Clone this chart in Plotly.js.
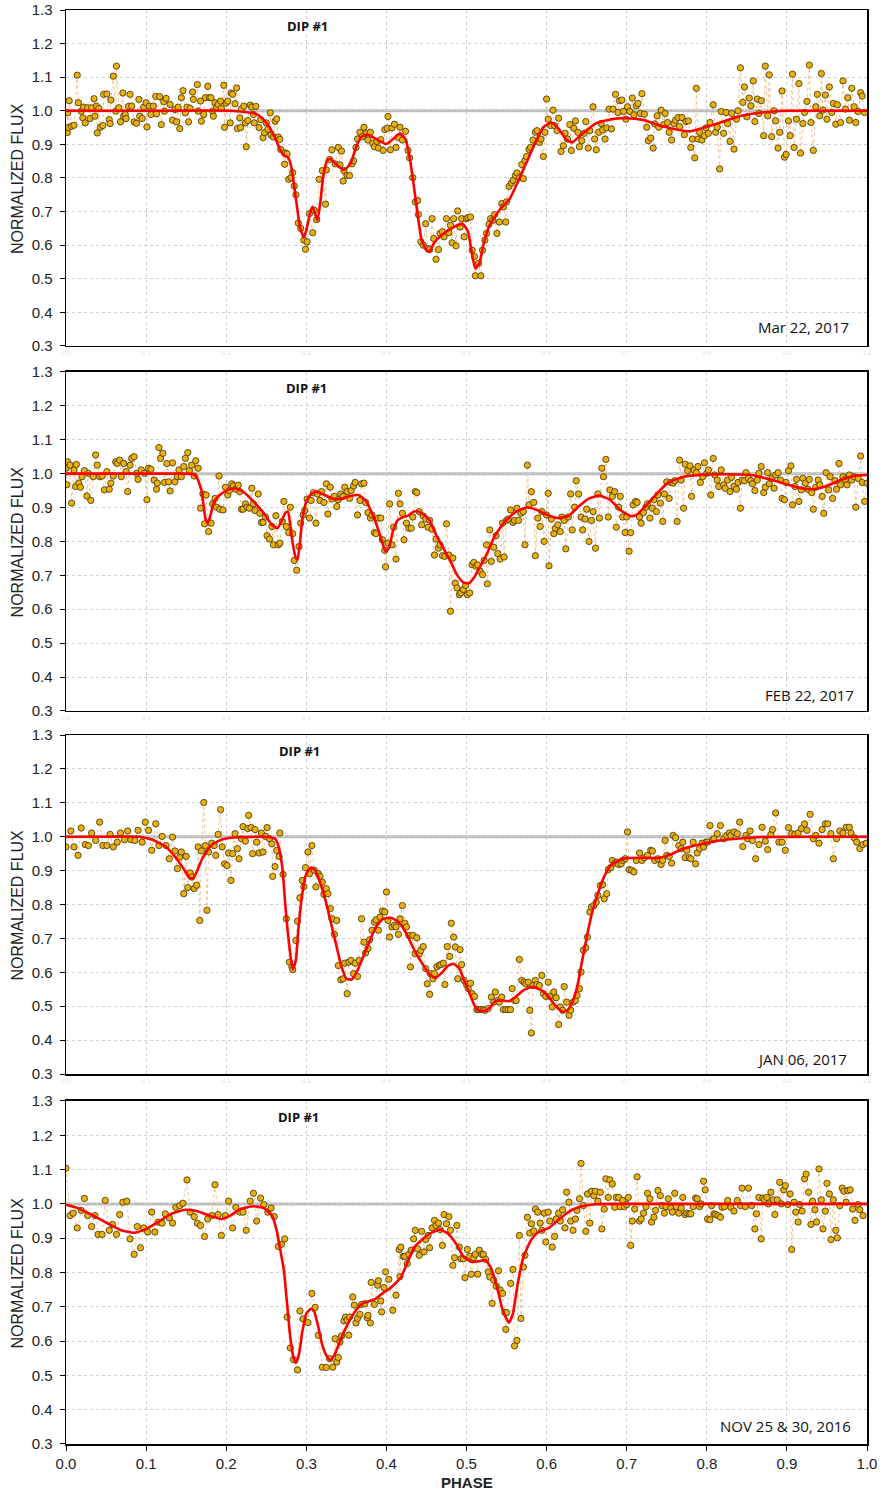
<!DOCTYPE html>
<html>
<head>
<meta charset="utf-8">
<script src="https://cdn.plot.ly/plotly-3.0.1.min.js"></script>
<style>html,body{margin:0;padding:0;background:#fff;}#chart{width:882px;height:1494px;}</style>
</head>
<body>
<div id="chart"></div>
<script>
// ---------- DATA ----------
const PANEL_DATES = ["Mar 22, 2017", "FEB 22, 2017", "JAN 06, 2017", "NOV 25 & 30, 2016"];
const DIP_LABEL = "DIP #1";
const REF_LEVEL = 1.0;

// Panel 1 : Mar 22, 2017  [phase, normalized flux]
const MAR22_POINTS = [
[0.0015,0.935],[0.002,0.994],[0.003,0.95],[0.004,1.03],[0.007,0.954],[0.010,0.957],[0.014,1.106],[0.0155,1.024],[0.019,0.999],[0.021,0.979],
[0.022,1.011],[0.024,0.964],[0.027,1.009],[0.030,0.977],[0.032,1.009],[0.035,1.036],[0.036,0.984],[0.038,1.014],[0.039,0.934],[0.041,1.007],
[0.043,0.951],[0.046,0.956],[0.047,1.049],[0.051,1.05],[0.054,0.974],[0.055,0.962],[0.056,1.032],[0.059,1.103],[0.062,0.999],[0.063,1.133],
[0.066,1.009],[0.068,0.967],[0.071,1.053],[0.072,0.984],[0.074,0.989],[0.075,0.977],[0.078,1.013],[0.080,1.049],[0.082,1.014],[0.085,0.967],
[0.088,0.963],[0.091,1.034],[0.092,0.984],[0.095,0.977],[0.097,1.011],[0.100,1.024],[0.101,0.952],[0.104,1.014],[0.106,0.989],[0.109,1.014],
[0.112,1.043],[0.113,0.991],[0.117,1.042],[0.119,0.959],[0.122,1.027],[0.123,0.999],[0.125,1.037],[0.130,1.019],[0.133,0.972],[0.136,1.004],
[0.138,0.967],[0.140,1.011],[0.142,0.947],[0.144,1.039],[0.146,1.060],[0.149,0.994],[0.151,1.011],[0.153,0.967],[0.155,1.007],[0.158,1.056],
[0.159,1.034],[0.164,1.078],[0.165,0.999],[0.168,1.029],[0.169,0.969],[0.172,0.989],[0.174,1.039],[0.177,1.073],[0.179,1.039],[0.181,1.039],
[0.183,0.999],[0.184,0.984],[0.186,1.024],[0.188,1.011],[0.190,1.019],[0.193,1.029],[0.194,1.007],[0.197,1.076],[0.198,0.951],[0.200,1.023],
[0.202,1.029],[0.205,0.964],[0.206,1.053],[0.208,1.049],[0.211,1.021],[0.213,1.068],[0.214,0.947],[0.217,0.979],[0.218,0.950],[0.219,1.006],
[0.222,1.014],[0.224,0.964],[0.225,0.893],[0.227,0.971],[0.230,1.017],[0.232,1.011],[0.234,0.989],[0.235,0.964],[0.237,1.013],[0.241,0.950],
[0.243,0.974],[0.246,0.920],[0.248,0.935],[0.250,0.964],[0.252,0.945],[0.255,0.994],[0.256,0.928],[0.259,0.922],[0.261,0.969],[0.263,0.976],
[0.265,0.922],[0.267,0.915],[0.268,0.885],[0.273,0.841],[0.274,0.875],[0.276,0.872],[0.278,0.796],[0.281,0.801],[0.283,0.816],[0.285,0.776],
[0.287,0.750],[0.290,0.666],[0.293,0.650],[0.297,0.615],[0.299,0.588],[0.301,0.610],[0.304,0.694],[0.308,0.637],[0.310,0.704],[0.313,0.676],
[0.316,0.796],[0.320,0.822],[0.324,0.722],[0.325,0.824],[0.329,0.855],[0.332,0.884],[0.336,0.842],[0.340,0.891],[0.342,0.839],[0.344,0.880],
[0.346,0.791],[0.347,0.822],[0.351,0.808],[0.354,0.807],[0.357,0.842],[0.359,0.851],[0.362,0.891],[0.364,0.916],[0.367,0.936],[0.370,0.923],
[0.372,0.951],[0.375,0.933],[0.377,0.913],[0.380,0.936],[0.383,0.903],[0.385,0.893],[0.388,0.909],[0.390,0.889],[0.393,0.914],[0.396,0.882],
[0.398,0.944],[0.401,0.948],[0.402,0.983],[0.405,0.884],[0.407,0.949],[0.410,0.960],[0.412,0.891],[0.415,0.921],[0.417,0.951],[0.420,0.913],
[0.424,0.939],[0.427,0.882],[0.429,0.860],[0.433,0.801],[0.436,0.729],[0.439,0.733],[0.440,0.691],[0.443,0.610],[0.446,0.600],[0.449,0.664],
[0.452,0.590],[0.454,0.587],[0.457,0.679],[0.459,0.620],[0.462,0.558],[0.465,0.587],[0.467,0.635],[0.470,0.640],[0.472,0.625],[0.475,0.679],
[0.478,0.637],[0.480,0.659],[0.482,0.607],[0.484,0.679],[0.487,0.598],[0.489,0.702],[0.492,0.654],[0.494,0.679],[0.497,0.625],[0.500,0.679],
[0.502,0.682],[0.505,0.684],[0.507,0.585],[0.510,0.566],[0.511,0.509],[0.515,0.546],[0.518,0.509],[0.520,0.585],[0.523,0.615],[0.525,0.635],
[0.528,0.662],[0.530,0.679],[0.533,0.674],[0.535,0.691],[0.538,0.635],[0.541,0.669],[0.544,0.724],[0.546,0.714],[0.549,0.669],[0.550,0.729],
[0.553,0.775],[0.556,0.785],[0.558,0.793],[0.561,0.807],[0.563,0.815],[0.566,0.801],[0.569,0.840],[0.571,0.798],[0.573,0.852],[0.575,0.864],
[0.578,0.885],[0.580,0.891],[0.583,0.913],[0.586,0.936],[0.588,0.941],[0.591,0.906],[0.593,0.916],[0.596,0.864],[0.598,0.936],[0.600,1.035],
[0.602,0.975],[0.605,0.956],[0.608,1.002],[0.610,0.956],[0.613,0.941],[0.615,0.978],[0.618,0.879],[0.621,0.896],[0.623,0.933],[0.626,0.916],
[0.629,0.959],[0.631,0.882],[0.634,0.948],[0.636,0.970],[0.639,0.936],[0.641,0.893],[0.644,0.911],[0.647,0.933],[0.649,0.968],[0.652,0.889],
[0.654,0.941],[0.658,1.012],[0.660,0.916],[0.662,0.884],[0.665,0.936],[0.668,0.962],[0.670,0.943],[0.673,0.916],[0.675,0.949],[0.678,1.005],
[0.681,0.946],[0.683,1.005],[0.686,1.049],[0.689,0.995],[0.691,1.030],[0.694,1.032],[0.696,0.998],[0.699,0.975],[0.701,1.012],[0.704,0.998],
[0.707,1.038],[0.709,0.988],[0.712,1.015],[0.714,1.022],[0.717,0.992],[0.719,1.051],[0.722,0.990],[0.725,0.951],[0.727,0.911],[0.730,0.919],
[0.733,0.889],[0.735,0.961],[0.738,0.985],[0.740,0.951],[0.743,1.002],[0.746,0.959],[0.748,0.992],[0.751,0.965],[0.753,0.936],[0.756,0.913],
[0.759,0.962],[0.761,0.972],[0.764,0.980],[0.766,0.953],[0.769,0.980],[0.772,0.929],[0.774,0.968],[0.777,0.970],[0.780,0.891],[0.782,0.916],
[0.785,0.860],[0.787,1.067],[0.789,0.916],[0.791,0.936],[0.794,0.913],[0.797,0.926],[0.799,0.949],[0.802,0.933],[0.804,0.965],[0.808,1.018],
[0.811,0.936],[0.813,0.951],[0.816,0.827],[0.818,0.998],[0.821,0.933],[0.824,0.995],[0.826,0.962],[0.829,0.909],[0.831,0.992],[0.834,0.886],
[0.837,0.975],[0.839,1.000],[0.842,1.128],[0.845,1.025],[0.847,1.071],[0.850,0.982],[0.853,1.038],[0.855,1.015],[0.858,1.089],[0.860,0.968],
[0.863,1.035],[0.865,0.992],[0.868,1.030],[0.871,0.926],[0.873,1.133],[0.876,0.985],[0.878,1.107],[0.881,0.923],[0.884,1.000],[0.886,0.970],
[0.889,0.889],[0.891,0.936],[0.894,1.059],[0.897,0.862],[0.899,0.870],[0.902,0.970],[0.904,0.926],[0.907,1.109],[0.909,0.891],[0.912,0.975],
[0.915,1.081],[0.917,0.874],[0.920,0.962],[0.922,0.995],[0.925,1.028],[0.928,1.136],[0.930,0.965],[0.933,0.882],[0.936,1.012],[0.938,1.049],
[0.941,0.985],[0.943,1.111],[0.945,1.002],[0.948,1.047],[0.950,0.975],[0.953,1.071],[0.956,0.995],[0.958,1.022],[0.961,0.960],[0.963,1.018],
[0.967,0.965],[0.970,1.089],[0.973,1.005],[0.976,1.039],[0.978,0.972],[0.981,1.067],[0.984,1.012],[0.986,0.965],[0.989,0.998],[0.992,1.054],
[0.994,1.044],[0.997,0.995]
];
const MAR22_FIT = [
[0,1],[0.1,1],[0.205,1],[0.238,0.99],[0.248,0.97],[0.254,0.951],[0.261,0.919],[0.267,0.886],[0.272,0.867],[0.277,0.862],[0.281,0.837],
[0.285,0.773],[0.289,0.704],[0.292,0.654],[0.297,0.622],[0.301,0.654],[0.305,0.699],[0.308,0.714],[0.311,0.694],[0.314,0.674],[0.318,0.738],
[0.321,0.803],[0.326,0.852],[0.33,0.857],[0.339,0.837],[0.347,0.824],[0.355,0.842],[0.362,0.891],[0.368,0.921],[0.376,0.929],[0.388,0.915],
[0.40,0.901],[0.408,0.915],[0.417,0.933],[0.424,0.915],[0.43,0.847],[0.435,0.763],[0.44,0.674],[0.444,0.615],[0.45,0.585],[0.454,0.58],
[0.459,0.605],[0.469,0.63],[0.485,0.655],[0.495,0.664],[0.502,0.64],[0.506,0.585],[0.511,0.531],[0.516,0.546],[0.521,0.60],[0.528,0.655],
[0.541,0.704],[0.554,0.738],[0.563,0.783],[0.576,0.852],[0.586,0.906],[0.596,0.951],[0.606,0.965],[0.615,0.946],[0.625,0.913],[0.632,0.906],
[0.642,0.926],[0.661,0.962],[0.681,0.975],[0.70,0.978],[0.72,0.973],[0.746,0.953],[0.778,0.939],[0.81,0.96],[0.843,0.985],[0.869,0.995],
[0.90,1.0],[0.95,1.0],[1,1]
];

// Panel 2 : FEB 22, 2017
const FEB22_POINTS = [
[0.000,1.016],[0.001,0.967],[0.002,1.035],[0.005,1.025],[0.007,0.913],[0.010,1.011],[0.012,0.962],[0.013,1.027],[0.016,0.972],[0.018,0.960],
[0.020,0.991],[0.023,1.009],[0.026,0.934],[0.028,1.001],[0.031,0.921],[0.034,0.991],[0.037,1.055],[0.039,1.025],[0.042,0.991],[0.045,0.993],
[0.048,0.952],[0.051,1.006],[0.054,0.954],[0.056,0.972],[0.059,0.993],[0.062,1.035],[0.064,1.030],[0.067,1.040],[0.069,0.991],[0.072,1.030],
[0.075,1.006],[0.077,0.947],[0.080,1.025],[0.082,1.045],[0.085,1.050],[0.088,1.001],[0.090,0.983],[0.094,1.011],[0.098,1.001],[0.101,0.923],
[0.103,1.016],[0.106,1.013],[0.110,0.981],[0.113,0.954],[0.114,0.972],[0.116,1.077],[0.118,1.045],[0.121,1.060],[0.123,0.974],[0.126,1.030],
[0.128,0.976],[0.130,0.949],[0.133,1.032],[0.136,0.976],[0.139,0.991],[0.141,1.011],[0.144,0.991],[0.147,1.021],[0.149,1.045],[0.152,1.062],
[0.154,1.009],[0.157,1.025],[0.160,0.993],[0.162,1.038],[0.165,1.016],[0.168,0.898],[0.171,0.940],[0.173,0.852],[0.175,0.937],[0.178,0.829],
[0.181,0.854],[0.183,0.911],[0.186,0.927],[0.188,0.901],[0.191,0.993],[0.192,0.895],[0.196,0.893],[0.199,0.960],[0.202,0.937],[0.204,0.950],
[0.207,0.970],[0.209,0.964],[0.212,0.954],[0.215,0.966],[0.217,0.947],[0.219,0.895],[0.221,0.895],[0.224,0.911],[0.226,0.901],[0.229,0.898],
[0.232,0.957],[0.234,0.911],[0.236,0.891],[0.240,0.940],[0.242,0.883],[0.244,0.856],[0.246,0.856],[0.249,0.872],[0.251,0.817],[0.254,0.807],
[0.257,0.844],[0.259,0.790],[0.262,0.876],[0.265,0.790],[0.267,0.795],[0.270,0.859],[0.272,0.918],[0.275,0.844],[0.278,0.826],[0.280,0.901],
[0.283,0.823],[0.285,0.744],[0.288,0.715],[0.291,0.785],[0.293,0.854],[0.296,0.878],[0.298,0.891],[0.301,0.925],[0.304,0.869],[0.306,0.921],
[0.309,0.944],[0.312,0.854],[0.314,0.940],[0.317,0.921],[0.319,0.947],[0.322,0.915],[0.325,0.970],[0.327,0.881],[0.330,0.960],[0.332,0.925],
[0.335,0.933],[0.338,0.903],[0.340,0.923],[0.343,0.940],[0.346,0.933],[0.348,0.960],[0.351,0.947],[0.354,0.927],[0.356,0.950],[0.359,0.964],
[0.361,0.974],[0.364,0.878],[0.367,0.921],[0.369,0.970],[0.372,0.972],[0.374,0.915],[0.377,0.885],[0.380,0.869],[0.382,0.878],[0.385,0.826],
[0.387,0.823],[0.390,0.869],[0.393,0.869],[0.395,0.805],[0.398,0.774],[0.399,0.725],[0.402,0.795],[0.404,0.911],[0.407,0.790],[0.409,0.842],
[0.412,0.748],[0.415,0.942],[0.417,0.911],[0.420,0.883],[0.422,0.805],[0.425,0.854],[0.428,0.839],[0.431,0.839],[0.433,0.872],[0.436,0.947],
[0.438,0.944],[0.441,0.888],[0.444,0.849],[0.446,0.875],[0.449,0.866],[0.452,0.842],[0.454,0.862],[0.457,0.836],[0.460,0.760],[0.462,0.807],
[0.465,0.780],[0.467,0.790],[0.470,0.758],[0.473,0.756],[0.475,0.852],[0.478,0.760],[0.480,0.594],[0.483,0.751],[0.486,0.677],[0.488,0.663],
[0.491,0.643],[0.493,0.648],[0.496,0.658],[0.499,0.670],[0.501,0.643],[0.504,0.648],[0.507,0.731],[0.509,0.738],[0.512,0.727],[0.514,0.731],
[0.517,0.712],[0.520,0.702],[0.522,0.744],[0.525,0.790],[0.526,0.675],[0.529,0.834],[0.531,0.741],[0.534,0.783],[0.537,0.817],[0.539,0.764],
[0.542,0.748],[0.545,0.854],[0.547,0.754],[0.550,0.862],[0.552,0.866],[0.555,0.893],[0.558,0.856],[0.560,0.862],[0.563,0.898],[0.565,0.862],
[0.568,0.883],[0.571,0.888],[0.573,0.790],[0.576,1.025],[0.578,0.908],[0.581,0.947],[0.584,0.915],[0.586,0.758],[0.589,0.869],[0.592,0.844],
[0.594,0.888],[0.597,0.800],[0.600,0.878],[0.602,0.942],[0.603,0.728],[0.606,0.866],[0.609,0.823],[0.611,0.839],[0.614,0.849],[0.617,0.829],
[0.619,0.872],[0.622,0.862],[0.624,0.778],[0.627,0.872],[0.630,0.940],[0.632,0.834],[0.635,0.901],[0.637,0.979],[0.640,0.940],[0.643,0.872],
[0.645,0.834],[0.648,0.866],[0.650,0.895],[0.653,0.800],[0.656,0.862],[0.658,0.888],[0.661,0.780],[0.664,0.940],[0.666,0.869],[0.669,1.016],
[0.671,0.991],[0.674,1.042],[0.677,0.872],[0.679,0.952],[0.682,0.933],[0.685,0.947],[0.687,0.842],[0.690,0.901],[0.692,0.933],[0.695,0.872],
[0.698,0.826],[0.700,0.872],[0.703,0.771],[0.705,0.826],[0.708,0.908],[0.711,0.918],[0.713,0.915],[0.716,0.872],[0.718,0.854],[0.721,0.885],
[0.724,0.901],[0.726,0.911],[0.729,0.869],[0.732,0.898],[0.734,0.923],[0.737,0.888],[0.739,0.937],[0.742,0.913],[0.745,0.859],[0.747,0.940],
[0.750,0.976],[0.753,0.927],[0.755,0.974],[0.758,0.972],[0.760,0.979],[0.763,0.859],[0.766,1.040],[0.768,0.981],[0.771,0.898],[0.773,1.028],
[0.776,1.009],[0.779,1.023],[0.781,0.933],[0.784,1.011],[0.787,1.003],[0.789,1.021],[0.792,0.974],[0.795,0.991],[0.797,1.032],[0.800,1.001],
[0.802,1.011],[0.805,0.937],[0.808,1.045],[0.810,0.996],[0.813,0.981],[0.815,0.962],[0.818,1.011],[0.821,0.967],[0.823,0.957],[0.826,0.981],
[0.829,0.947],[0.831,0.989],[0.834,0.962],[0.837,0.954],[0.839,0.974],[0.842,0.898],[0.844,0.981],[0.847,0.979],[0.849,1.003],[0.852,0.986],
[0.855,0.979],[0.857,0.970],[0.860,0.950],[0.863,0.981],[0.865,1.001],[0.868,1.021],[0.871,0.944],[0.873,0.960],[0.876,1.003],[0.878,0.970],
[0.881,0.986],[0.884,0.957],[0.886,0.996],[0.889,1.003],[0.892,0.981],[0.894,0.927],[0.897,0.923],[0.899,0.974],[0.902,1.009],[0.905,1.023],
[0.907,0.908],[0.910,0.962],[0.912,0.983],[0.915,0.918],[0.918,0.952],[0.920,0.986],[0.923,0.972],[0.926,0.954],[0.928,0.983],[0.931,0.944],
[0.933,0.895],[0.936,0.960],[0.939,0.981],[0.941,0.967],[0.944,0.933],[0.946,0.883],[0.949,1.003],[0.952,0.952],[0.954,0.991],[0.957,0.927],
[0.960,0.979],[0.962,0.954],[0.965,1.030],[0.967,0.967],[0.970,0.991],[0.973,0.983],[0.975,0.967],[0.978,0.996],[0.981,0.981],[0.984,0.991],
[0.986,0.901],[0.989,0.986],[0.992,1.052],[0.994,0.974],[0.997,0.918],[1.000,0.972]
];
const FEB22_FIT = [
[0,1],[0.08,1],[0.14,1],[0.158,0.999],[0.163,0.99],[0.169,0.952],[0.174,0.869],[0.177,0.854],[0.181,0.883],[0.185,0.918],[0.192,0.937],[0.202,0.952],[0.211,0.956],
[0.221,0.947],[0.234,0.918],[0.247,0.883],[0.257,0.849],[0.264,0.839],[0.268,0.854],[0.274,0.885],[0.277,0.888],[0.28,0.849],[0.283,0.795],
[0.287,0.751],[0.289,0.746],[0.292,0.795],[0.295,0.864],[0.30,0.918],[0.306,0.94],[0.313,0.947],[0.323,0.937],[0.332,0.927],[0.342,0.925],
[0.355,0.934],[0.365,0.937],[0.375,0.918],[0.384,0.872],[0.39,0.834],[0.395,0.795],[0.399,0.771],[0.403,0.78],[0.408,0.829],[0.414,0.862],
[0.421,0.872],[0.427,0.876],[0.434,0.888],[0.44,0.888],[0.447,0.878],[0.454,0.862],[0.462,0.82],[0.47,0.785],[0.48,0.741],[0.488,0.702],
[0.496,0.679],[0.503,0.677],[0.509,0.692],[0.517,0.726],[0.526,0.766],[0.535,0.815],[0.548,0.859],[0.562,0.888],[0.575,0.90],[0.588,0.893],
[0.601,0.878],[0.614,0.869],[0.627,0.875],[0.64,0.903],[0.653,0.927],[0.666,0.935],[0.679,0.923],[0.692,0.893],[0.705,0.875],[0.712,0.878],
[0.725,0.908],[0.738,0.942],[0.751,0.972],[0.771,0.991],[0.797,0.997],[0.823,0.998],[0.856,0.996],[0.882,0.981],[0.902,0.967],[0.918,0.957],
[0.933,0.954],[0.948,0.962],[0.967,0.981],[0.984,0.994],[1,0.996]
];

// Panel 3 : JAN 06, 2017
const JAN06_POINTS = [
[0.000,0.970],[0.006,1.017],[0.010,0.970],[0.015,0.945],[0.019,1.026],[0.024,0.977],[0.028,0.974],[0.032,1.011],[0.037,0.989],[0.042,1.043],
[0.046,0.974],[0.051,0.974],[0.055,1.007],[0.059,0.970],[0.064,0.984],[0.068,1.011],[0.073,0.991],[0.077,1.017],[0.081,0.991],[0.086,0.989],
[0.090,1.019],[0.095,0.984],[0.099,1.043],[0.103,1.019],[0.107,0.960],[0.112,1.038],[0.116,0.974],[0.120,1.001],[0.125,0.974],[0.129,0.935],
[0.133,0.999],[0.136,0.958],[0.139,0.906],[0.142,0.940],[0.144,0.955],[0.147,0.832],[0.150,0.942],[0.152,0.850],[0.155,0.893],[0.157,0.881],
[0.160,0.847],[0.163,0.857],[0.165,0.970],[0.167,0.753],[0.169,0.958],[0.172,1.101],[0.174,0.974],[0.176,0.783],[0.178,0.955],[0.182,0.981],
[0.185,0.974],[0.187,0.945],[0.190,1.007],[0.193,1.080],[0.195,0.970],[0.198,0.920],[0.201,0.915],[0.203,0.952],[0.206,0.871],[0.208,0.950],
[0.211,1.009],[0.214,0.965],[0.216,0.935],[0.219,0.994],[0.221,1.030],[0.224,0.987],[0.227,1.024],[0.228,1.063],[0.231,1.027],[0.233,0.950],
[0.236,1.021],[0.238,0.984],[0.241,0.952],[0.244,1.011],[0.246,0.955],[0.249,1.001],[0.251,1.027],[0.254,0.994],[0.257,0.979],[0.258,0.883],
[0.261,0.912],[0.263,0.960],[0.266,0.942],[0.267,1.011],[0.271,0.889],[0.275,0.758],[0.279,0.630],[0.282,0.616],[0.283,0.608],[0.287,0.694],
[0.289,0.751],[0.292,0.820],[0.295,0.871],[0.297,0.853],[0.299,0.909],[0.302,0.955],[0.304,0.891],[0.307,0.974],[0.310,0.901],[0.312,0.852],
[0.315,0.891],[0.317,0.883],[0.320,0.866],[0.322,0.830],[0.325,0.847],[0.327,0.832],[0.330,0.788],[0.332,0.758],[0.335,0.712],[0.338,0.753],
[0.340,0.620],[0.343,0.578],[0.346,0.581],[0.348,0.627],[0.351,0.537],[0.353,0.630],[0.356,0.635],[0.359,0.596],[0.361,0.627],[0.364,0.588],
[0.366,0.635],[0.369,0.758],[0.372,0.689],[0.374,0.657],[0.377,0.670],[0.379,0.696],[0.382,0.724],[0.385,0.748],[0.387,0.755],[0.390,0.724],
[0.392,0.763],[0.395,0.781],[0.398,0.778],[0.400,0.837],[0.402,0.753],[0.404,0.704],[0.407,0.734],[0.410,0.739],[0.412,0.734],[0.415,0.712],
[0.417,0.758],[0.420,0.797],[0.423,0.745],[0.425,0.734],[0.428,0.709],[0.430,0.616],[0.433,0.709],[0.436,0.655],[0.438,0.702],[0.441,0.655],
[0.443,0.665],[0.446,0.676],[0.449,0.611],[0.451,0.566],[0.454,0.535],[0.455,0.596],[0.458,0.581],[0.460,0.596],[0.463,0.616],[0.466,0.621],
[0.468,0.623],[0.471,0.627],[0.473,0.564],[0.476,0.676],[0.479,0.647],[0.481,0.745],[0.484,0.704],[0.486,0.675],[0.489,0.581],[0.492,0.667],
[0.494,0.623],[0.497,0.576],[0.500,0.564],[0.502,0.552],[0.505,0.568],[0.507,0.537],[0.510,0.529],[0.513,0.490],[0.515,0.490],[0.518,0.490],
[0.521,0.490],[0.523,0.488],[0.527,0.493],[0.531,0.527],[0.534,0.512],[0.536,0.542],[0.539,0.517],[0.541,0.512],[0.544,0.527],[0.546,0.490],
[0.549,0.490],[0.552,0.490],[0.555,0.490],[0.557,0.552],[0.560,0.517],[0.562,0.517],[0.566,0.638],[0.569,0.576],[0.572,0.571],[0.574,0.566],
[0.577,0.571],[0.579,0.488],[0.581,0.421],[0.583,0.561],[0.586,0.576],[0.588,0.564],[0.591,0.561],[0.594,0.591],[0.596,0.537],[0.599,0.529],
[0.602,0.571],[0.604,0.529],[0.607,0.498],[0.609,0.542],[0.612,0.525],[0.615,0.446],[0.617,0.498],[0.620,0.488],[0.622,0.558],[0.625,0.512],
[0.628,0.473],[0.630,0.488],[0.633,0.512],[0.636,0.517],[0.638,0.532],[0.641,0.552],[0.643,0.601],[0.646,0.665],[0.649,0.673],[0.651,0.704],
[0.654,0.778],[0.656,0.793],[0.659,0.797],[0.662,0.807],[0.664,0.827],[0.667,0.856],[0.670,0.859],[0.672,0.817],[0.675,0.832],[0.677,0.903],
[0.680,0.909],[0.682,0.930],[0.685,0.922],[0.688,0.925],[0.690,0.918],[0.693,0.920],[0.695,0.930],[0.698,0.935],[0.701,1.014],[0.703,0.903],
[0.706,0.901],[0.709,0.896],[0.712,0.930],[0.716,0.952],[0.719,0.930],[0.722,0.938],[0.726,0.945],[0.730,0.960],[0.732,0.958],[0.735,0.930],
[0.739,0.935],[0.743,0.918],[0.745,0.930],[0.748,0.989],[0.750,0.945],[0.753,0.942],[0.756,0.922],[0.758,1.004],[0.761,0.997],[0.765,0.974],
[0.768,0.965],[0.770,0.984],[0.773,0.938],[0.775,0.960],[0.778,0.938],[0.780,0.935],[0.783,0.984],[0.786,0.920],[0.788,0.952],[0.791,0.965],
[0.794,0.981],[0.796,0.970],[0.799,0.984],[0.801,0.984],[0.804,1.033],[0.807,0.991],[0.809,0.994],[0.813,1.009],[0.817,1.033],[0.821,0.994],
[0.825,1.004],[0.828,1.011],[0.830,1.004],[0.834,1.014],[0.838,1.009],[0.841,1.043],[0.845,0.971],[0.849,1.004],[0.851,0.994],[0.854,1.017],
[0.857,0.989],[0.861,0.935],[0.865,0.977],[0.869,1.028],[0.873,0.987],[0.876,0.962],[0.880,1.007],[0.882,1.021],[0.886,1.070],[0.890,0.984],
[0.894,0.984],[0.898,0.960],[0.902,1.027],[0.906,1.009],[0.910,1.007],[0.914,1.011],[0.918,1.024],[0.922,1.038],[0.925,1.019],[0.929,1.066],
[0.933,0.994],[0.936,1.004],[0.940,0.981],[0.944,1.021],[0.948,1.038],[0.951,1.038],[0.955,1.009],[0.958,0.935],[0.962,0.994],[0.966,1.017],
[0.970,1.011],[0.974,1.028],[0.978,1.028],[0.980,1.011],[0.984,0.997],[0.987,0.984],[0.991,0.965],[0.995,0.977],[0.999,0.981]
];
const JAN06_FIT = [
[0,1],[0.05,1],[0.092,1],[0.108,0.991],[0.125,0.97],[0.138,0.935],[0.148,0.901],[0.154,0.879],[0.159,0.878],[0.164,0.901],[0.17,0.935],
[0.18,0.971],[0.19,0.987],[0.203,0.996],[0.223,0.999],[0.249,1.0],[0.261,0.994],[0.265,0.974],[0.27,0.911],[0.274,0.793],[0.278,0.694],
[0.283,0.608],[0.287,0.636],[0.29,0.724],[0.295,0.832],[0.30,0.891],[0.306,0.909],[0.311,0.901],[0.317,0.866],[0.324,0.812],[0.33,0.753],
[0.337,0.684],[0.344,0.616],[0.35,0.581],[0.357,0.579],[0.363,0.601],[0.37,0.64],[0.378,0.686],[0.387,0.734],[0.396,0.758],[0.406,0.761],
[0.415,0.748],[0.425,0.714],[0.435,0.665],[0.445,0.625],[0.453,0.596],[0.461,0.583],[0.47,0.601],[0.477,0.62],[0.484,0.625],[0.491,0.611],
[0.497,0.576],[0.504,0.537],[0.51,0.502],[0.515,0.488],[0.523,0.486],[0.53,0.498],[0.536,0.515],[0.543,0.517],[0.553,0.515],[0.561,0.527],
[0.571,0.547],[0.582,0.557],[0.592,0.549],[0.602,0.529],[0.611,0.502],[0.62,0.483],[0.626,0.488],[0.633,0.517],[0.639,0.566],[0.644,0.63],
[0.651,0.714],[0.657,0.778],[0.664,0.832],[0.672,0.883],[0.68,0.915],[0.69,0.93],[0.70,0.937],[0.719,0.938],[0.739,0.937],[0.752,0.945],
[0.771,0.965],[0.791,0.977],[0.811,0.987],[0.837,0.994],[0.869,0.999],[0.93,1],[1,1]
];

// Panel 4 : NOV 25 & 30, 2016
const NOV_POINTS = [
[0.000,1.104],[0.005,0.966],[0.009,0.973],[0.014,0.930],[0.019,0.981],[0.023,1.016],[0.027,0.966],[0.032,0.934],[0.036,0.966],[0.040,0.911],
[0.045,0.911],[0.049,1.010],[0.054,0.923],[0.058,0.940],[0.063,0.911],[0.067,0.969],[0.071,1.005],[0.076,1.008],[0.080,0.898],[0.085,0.853],
[0.089,0.934],[0.093,0.872],[0.097,0.930],[0.102,0.918],[0.107,0.976],[0.111,0.918],[0.115,0.947],[0.120,0.944],[0.124,0.971],[0.129,0.959],
[0.133,0.944],[0.137,0.990],[0.142,0.995],[0.146,1.002],[0.151,1.070],[0.155,0.976],[0.160,0.963],[0.164,0.944],[0.168,0.937],[0.173,0.905],
[0.177,0.956],[0.182,0.966],[0.186,1.056],[0.190,0.969],[0.194,0.908],[0.199,0.966],[0.203,1.008],[0.208,0.930],[0.212,0.990],[0.217,0.976],
[0.221,0.976],[0.225,0.923],[0.230,1.008],[0.234,1.031],[0.238,0.950],[0.243,1.017],[0.247,0.998],[0.252,0.976],[0.256,0.988],[0.260,0.963],
[0.265,0.876],[0.269,0.882],[0.273,0.898],[0.276,0.670],[0.280,0.580],[0.284,0.546],[0.289,0.516],[0.292,0.688],[0.296,0.665],[0.302,0.654],
[0.307,0.739],[0.311,0.698],[0.315,0.617],[0.320,0.524],[0.325,0.523],[0.329,0.549],[0.333,0.524],[0.336,0.607],[0.338,0.539],[0.340,0.552],
[0.342,0.597],[0.344,0.615],[0.347,0.659],[0.349,0.670],[0.351,0.661],[0.353,0.617],[0.354,0.670],[0.358,0.729],[0.360,0.705],[0.362,0.653],
[0.364,0.666],[0.367,0.678],[0.369,0.707],[0.373,0.709],[0.376,0.668],[0.377,0.675],[0.380,0.653],[0.381,0.771],[0.385,0.707],[0.389,0.763],
[0.390,0.776],[0.393,0.717],[0.394,0.685],[0.397,0.756],[0.399,0.802],[0.403,0.780],[0.408,0.690],[0.412,0.734],[0.416,0.867],[0.417,0.788],
[0.418,0.874],[0.421,0.847],[0.423,0.847],[0.426,0.826],[0.428,0.853],[0.431,0.865],[0.434,0.898],[0.436,0.923],[0.439,0.869],[0.441,0.850],
[0.444,0.920],[0.447,0.860],[0.449,0.896],[0.452,0.908],[0.454,0.872],[0.457,0.930],[0.460,0.952],[0.462,0.937],[0.465,0.944],[0.467,0.925],
[0.470,0.879],[0.472,0.969],[0.475,0.942],[0.478,0.963],[0.480,0.923],[0.483,0.821],[0.485,0.843],[0.488,0.937],[0.491,0.874],[0.493,0.840],
[0.496,0.840],[0.498,0.785],[0.501,0.867],[0.504,0.847],[0.506,0.795],[0.509,0.843],[0.511,0.853],[0.514,0.795],[0.516,0.865],[0.519,0.853],
[0.521,0.853],[0.524,0.838],[0.527,0.802],[0.529,0.787],[0.532,0.710],[0.534,0.778],[0.537,0.760],[0.540,0.805],[0.542,0.749],[0.545,0.739],
[0.548,0.683],[0.549,0.634],[0.550,0.683],[0.555,0.768],[0.558,0.809],[0.560,0.586],[0.563,0.602],[0.566,0.908],[0.568,0.666],[0.571,0.816],
[0.573,0.850],[0.576,0.961],[0.579,0.915],[0.581,0.942],[0.584,0.921],[0.586,0.985],[0.589,0.976],[0.592,0.944],[0.594,0.923],[0.597,0.973],
[0.599,0.889],[0.602,0.976],[0.604,0.950],[0.607,0.874],[0.610,0.905],[0.612,0.956],[0.615,0.973],[0.617,0.950],[0.620,0.983],[0.623,0.930],
[0.625,1.034],[0.628,1.005],[0.630,0.950],[0.633,0.923],[0.636,0.956],[0.638,0.981],[0.641,1.015],[0.643,1.118],[0.646,0.995],[0.649,0.920],
[0.651,1.029],[0.654,0.944],[0.656,1.037],[0.659,1.024],[0.661,1.037],[0.664,1.008],[0.667,1.034],[0.669,0.927],[0.672,0.985],[0.674,1.073],
[0.677,1.019],[0.679,1.070],[0.682,1.058],[0.685,0.990],[0.687,1.019],[0.690,1.019],[0.692,0.992],[0.695,1.010],[0.697,0.992],[0.700,0.998],
[0.702,1.019],[0.705,0.879],[0.707,0.950],[0.710,0.985],[0.713,1.079],[0.716,0.950],[0.718,0.956],[0.721,0.973],[0.724,0.992],[0.726,1.031],
[0.729,1.015],[0.731,0.947],[0.734,0.961],[0.736,0.981],[0.739,1.039],[0.742,1.024],[0.744,0.995],[0.747,0.973],[0.749,0.992],[0.752,1.015],
[0.755,0.988],[0.757,0.976],[0.760,1.031],[0.762,0.992],[0.765,0.973],[0.768,0.988],[0.770,1.019],[0.773,0.969],[0.775,0.973],[0.778,0.971],
[0.780,0.971],[0.783,0.992],[0.786,1.017],[0.788,1.015],[0.791,0.992],[0.793,1.000],[0.796,1.066],[0.798,1.041],[0.801,0.956],[0.804,0.954],
[0.806,0.995],[0.809,0.971],[0.811,0.969],[0.814,0.966],[0.817,0.961],[0.819,0.990],[0.822,0.992],[0.826,1.010],[0.830,0.990],[0.834,0.979],
[0.838,1.010],[0.842,0.995],[0.844,1.046],[0.848,0.992],[0.852,1.046],[0.856,0.995],[0.860,0.927],[0.862,0.971],[0.865,1.019],[0.868,0.898],
[0.870,1.017],[0.872,1.012],[0.875,1.019],[0.877,1.000],[0.880,1.034],[0.883,1.012],[0.885,0.969],[0.888,1.012],[0.891,1.063],[0.893,1.000],
[0.896,1.041],[0.898,1.053],[0.901,0.998],[0.904,1.029],[0.906,0.867],[0.909,1.005],[0.911,0.976],[0.914,0.947],[0.916,0.998],[0.919,0.979],
[0.922,1.073],[0.924,1.087],[0.927,1.034],[0.930,0.940],[0.932,1.008],[0.935,0.983],[0.937,0.947],[0.940,1.102],[0.943,1.012],[0.945,0.927],
[0.948,0.979],[0.950,1.060],[0.953,1.029],[0.955,0.896],[0.958,1.012],[0.961,0.923],[0.963,0.901],[0.966,0.995],[0.969,1.046],[0.971,1.037],
[0.974,1.005],[0.976,1.039],[0.979,1.041],[0.982,0.985],[0.985,0.952],[0.989,0.998],[0.991,0.983],[0.995,0.966]
];
const NOV_FIT = [
[0,0.998],[0.014,0.988],[0.034,0.966],[0.053,0.942],[0.069,0.923],[0.085,0.916],[0.098,0.925],[0.115,0.947],[0.131,0.971],[0.149,0.983],
[0.163,0.979],[0.179,0.966],[0.194,0.956],[0.205,0.966],[0.218,0.985],[0.234,0.993],[0.247,0.988],[0.257,0.966],[0.263,0.923],[0.268,0.86],
[0.272,0.807],[0.276,0.709],[0.28,0.612],[0.284,0.552],[0.287,0.536],[0.291,0.563],[0.295,0.627],[0.30,0.68],[0.306,0.695],[0.31,0.685],
[0.315,0.641],[0.32,0.588],[0.326,0.554],[0.33,0.544],[0.335,0.559],[0.341,0.593],[0.348,0.632],[0.354,0.66],[0.362,0.69],[0.37,0.709],
[0.379,0.717],[0.387,0.724],[0.395,0.739],[0.404,0.753],[0.412,0.77],[0.418,0.785],[0.435,0.874],[0.454,0.913],[0.467,0.925],[0.477,0.913],
[0.487,0.884],[0.496,0.847],[0.506,0.831],[0.516,0.833],[0.524,0.836],[0.531,0.811],[0.539,0.749],[0.545,0.691],[0.553,0.654],[0.558,0.681],
[0.564,0.768],[0.571,0.845],[0.581,0.896],[0.59,0.918],[0.603,0.93],[0.613,0.95],[0.623,0.969],[0.632,0.983],[0.642,0.992],[0.661,0.999],
[0.694,1.0],[0.8,1.0],[1,1]
];

// ---------- CHART ----------
const PANELS = [
  {pts: MAR22_POINTS, fit: MAR22_FIT, date: PANEL_DATES[0], dipX: 0.301, dateX: 0.98,  dateY: 0.356},
  {pts: FEB22_POINTS, fit: FEB22_FIT, date: PANEL_DATES[1], dipX: 0.30,  dateX: 0.986, dateY: 0.347},
  {pts: JAN06_POINTS, fit: JAN06_FIT, date: PANEL_DATES[2], dipX: 0.291, dateX: 0.978, dateY: 0.344},
  {pts: NOV_POINTS,   fit: NOV_FIT,   date: PANEL_DATES[3], dipX: 0.29,  dateX: 0.983, dateY: 0.352}
];
const DOMAINS = [[0.7657, 1.0], [0.5112, 0.7476], [0.2580, 0.4944], [0.0, 0.2392]];

const FONT = "Liberation Sans, Arial, sans-serif";
const LABEL_FONT = "Open Sans, Noto Sans, sans-serif";

const traces = [];
const shapes = [];
const annotations = [];
const layout = {
  width: 882, height: 1494,
  margin: {l: 66, r: 15, t: 10, b: 50},
  paper_bgcolor: "#fff", plot_bgcolor: "#fff",
  showlegend: false,
  font: {family: FONT, color: "#222"}
};

PANELS.forEach((p, i) => {
  const n = i + 1;
  const xa = "x" + (n === 1 ? "" : n), ya = "y" + (n === 1 ? "" : n);
  const pts = p.pts.slice().sort((a, b) => a[0] - b[0]);
  traces.push({
    type: "scatter", mode: "lines+markers", xaxis: xa, yaxis: ya,
    x: pts.map(d => d[0]), y: pts.map(d => d[1]),
    line: {color: "#f5c08c", width: 1, dash: "dot"},
    marker: {size: 6.3, color: "#ecb00e", line: {color: "#3b3000", width: 0.8}},
    hoverinfo: "skip"
  });
  traces.push({
    type: "scatter", mode: "lines", xaxis: xa, yaxis: ya,
    x: p.fit.map(d => d[0]), y: p.fit.map(d => d[1]),
    line: {color: "#ff0000", width: 2.6, shape: "spline", smoothing: 0.5},
    hoverinfo: "skip"
  });
  const last = n === 4;
  layout["xaxis" + (n === 1 ? "" : n)] = {
    domain: [0, 1], anchor: ya, range: [0, 1], dtick: 0.1, tick0: 0, tickformat: ".1f",
    showgrid: true, gridcolor: "#cfcfcf", griddash: "dot", gridwidth: 1,
    showline: true, linecolor: "#000", linewidth: 1.5, mirror: true, zeroline: false,
    ticks: last ? "outside" : "", ticklen: 5, tickcolor: "#000",
    tickfont: last ? {family: FONT, size: 15, color: "#222"} : {family: FONT, size: 6, color: "#e4e4e4"},
    fixedrange: true
  };
  layout["yaxis" + (n === 1 ? "" : n)] = {
    domain: DOMAINS[i], anchor: xa, range: [0.3, 1.3], dtick: 0.1, tick0: 0.3, tickformat: ".1f",
    showgrid: true, gridcolor: "#cfcfcf", griddash: "dot", gridwidth: 1,
    showline: true, linecolor: "#000", linewidth: 1.5, mirror: true, zeroline: false,
    ticks: "outside", ticklen: 5, tickcolor: "#000", ticklabelstandoff: 4,
    tickfont: {family: FONT, size: 15, color: "#222"},
    fixedrange: true
  };
  shapes.push({
    type: "line", xref: xa, yref: ya, x0: 0, x1: 1, y0: REF_LEVEL, y1: REF_LEVEL,
    line: {color: "#bdbdbd", width: 3}, layer: "below"
  });
  annotations.push({
    xref: xa, yref: ya, x: p.dipX, y: 1.253, text: "<b>" + DIP_LABEL + "</b>",
    showarrow: false, xanchor: "center", yanchor: "middle",
    font: {family: LABEL_FONT, size: 13, color: "#111"}
  });
  annotations.push({
    xref: xa, yref: ya, x: p.dateX, y: p.dateY, text: p.date,
    showarrow: false, xanchor: "right", yanchor: "middle",
    font: {family: LABEL_FONT, size: 15, color: "#111"}
  });
  annotations.push({
    xref: "paper", yref: "paper", x: -0.06, y: (DOMAINS[i][0] + DOMAINS[i][1]) / 2,
    text: "NORMALIZED FLUX", textangle: -90, showarrow: false,
    xanchor: "center", yanchor: "middle",
    font: {family: FONT, size: 16, color: "#222"}
  });
});
annotations.push({
  xref: "paper", yref: "paper", x: 0.5, y: -0.027, text: "<b>PHASE</b>",
  showarrow: false, xanchor: "center", yanchor: "middle",
  font: {family: FONT, size: 15, color: "#222"}
});
layout.shapes = shapes;
layout.annotations = annotations;

Plotly.newPlot("chart", traces, layout, {staticPlot: true, displayModeBar: false});
</script>
</body>
</html>
